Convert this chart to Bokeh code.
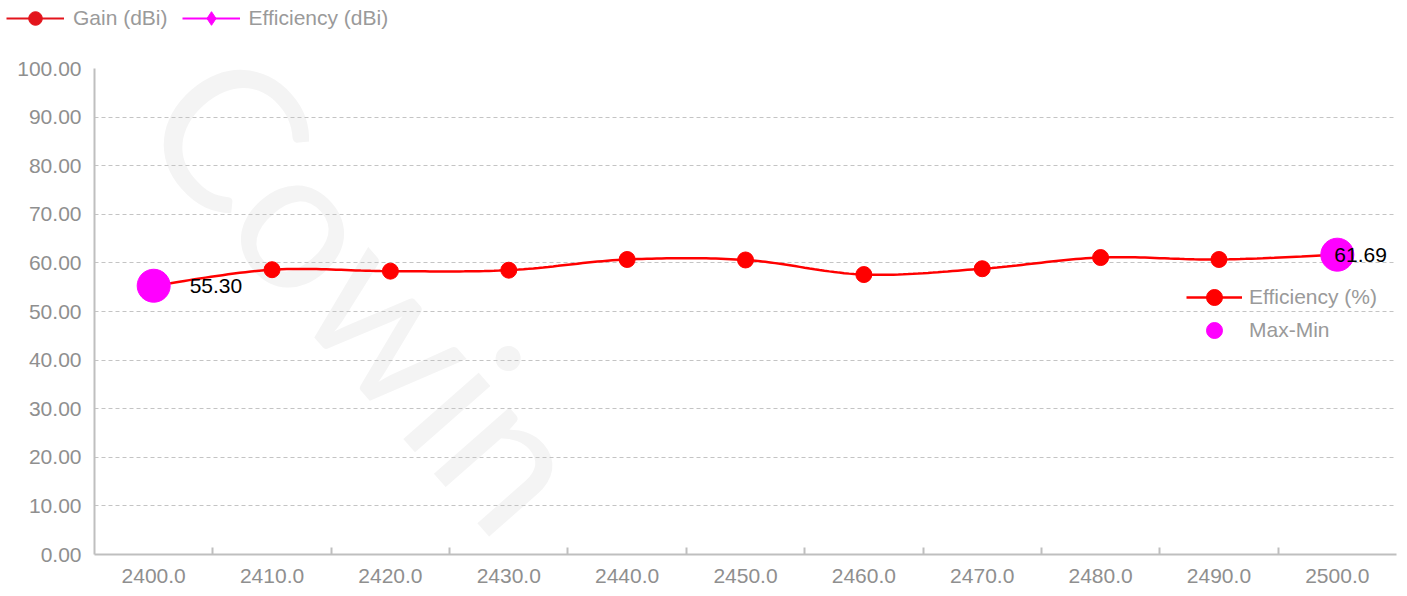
import numpy as np
from bokeh.plotting import figure
from bokeh.layouts import column
from bokeh.models import (Range1d, FixedTicker, NumeralTickFormatter, Legend, LegendItem,
                          ColumnDataSource, Label, LabelSet)
from bokeh.core.properties import value
from bokeh.embed import file_html
from bokeh.resources import INLINE

# ---- data ----
freqs = [2400.0, 2410.0, 2420.0, 2430.0, 2440.0, 2450.0, 2460.0, 2470.0, 2480.0, 2490.0, 2500.0]
efficiency = [55.30, 58.60, 58.30, 58.50, 60.70, 60.60, 57.60, 58.80, 61.10, 60.70, 61.69]
gain_dbi = [float("nan")]          # not plotted in this chart, only listed in the legend
efficiency_dbi = [float("nan")]    # not plotted in this chart, only listed in the legend
y_ticks = [0, 10, 20, 30, 40, 50, 60, 70, 80, 90, 100]
series_names = ["Gain (dBi)", "Efficiency (dBi)", "Efficiency (%)", "Max-Min"]
watermark = "Cowin"

FONT = "Liberation Sans"
GRAY_TXT = "#8f8f8f"
LEG_TXT = "#9a9a9a"


def mk_legend(fig, items, loc, gh, orientation="vertical", spacing=0, standoff=7, gw=56):
    lg = Legend(items=items, location=loc, orientation=orientation, glyph_height=gh,
                glyph_width=gw, label_standoff=standoff, padding=0, margin=0, spacing=spacing,
                border_line_color=None, background_fill_alpha=0,
                label_text_font=FONT, label_text_font_size="21px", label_text_color=LEG_TXT,
                label_height=gh)
    fig.add_layout(lg)


# ---- top strip holding the series legend ----
top = figure(width=1399, height=36, output_backend="svg", toolbar_location=None,
             x_range=Range1d(0, 1), y_range=Range1d(0, 1), x_axis_type=None, y_axis_type=None,
             min_border=0, frame_align=False)
top.outline_line_color = None
gsrc = ColumnDataSource(dict(x=gain_dbi, y=gain_dbi))
esrc = ColumnDataSource(dict(x=efficiency_dbi, y=efficiency_dbi))
g_line = top.line("x", "y", source=gsrc, line_color="#e3141c", line_width=2)
g_pts = top.scatter("x", "y", source=gsrc, marker="circle", fill_color="#e3141c", line_color="#e3141c")
e_line = top.line("x", "y", source=esrc, line_color="#ff00ff", line_width=2)
e_pts = top.scatter("x", "y", source=esrc, marker="diamond", fill_color="#ff00ff", line_color="#ff00ff")
mk_legend(top, [LegendItem(label=series_names[0], renderers=[g_line, g_pts]),
                LegendItem(label=series_names[1], renderers=[e_line, e_pts])],
          (6, 1), 34, orientation="horizontal", spacing=14, standoff=9, gw=58)

# ---- main chart ----
p = figure(width=1399, height=554, output_backend="svg", toolbar_location=None,
           x_range=Range1d(2395, 2505), y_range=Range1d(0, 100),
           min_border_left=94, min_border_right=3, min_border_top=32, min_border_bottom=36,
           frame_align=False)
p.outline_line_color = None
p.background_fill_color = "white"

# watermark
p.add_layout(Label(x=2403.0, y=97.8, text=watermark, angle=-0.85, text_font="Lato",
                   text_font_size="198px", text_color="#f4f4f4", text_baseline="middle",
                   text_align="left", level="image"))

# axes
minor = [(freqs[i] + freqs[i + 1]) / 2 for i in range(len(freqs) - 1)]
p.xaxis.ticker = FixedTicker(ticks=freqs, minor_ticks=minor)
p.xaxis.formatter = NumeralTickFormatter(format="0.0")
p.xaxis.major_tick_line_color = None
p.xaxis.major_tick_in = 0
p.xaxis.major_tick_out = 0
p.xaxis.minor_tick_in = 7
p.xaxis.minor_tick_out = 0
p.xaxis.minor_tick_line_color = "#bfbfbf"
p.xaxis.minor_tick_line_width = 2
p.xaxis.axis_line_color = "#bfbfbf"
p.xaxis.axis_line_width = 2
p.xaxis.major_label_standoff = 14

p.yaxis.ticker = FixedTicker(ticks=y_ticks)
p.yaxis.formatter = NumeralTickFormatter(format="0.00")
p.yaxis.major_tick_line_color = None
p.yaxis.major_tick_in = 0
p.yaxis.major_tick_out = 0
p.yaxis.minor_tick_line_color = None
p.yaxis.axis_line_color = "#bfbfbf"
p.yaxis.axis_line_width = 2
p.yaxis.major_label_standoff = 13

for ax in (p.xaxis, p.yaxis):
    ax.major_label_text_font = FONT
    ax.major_label_text_font_size = "21px"
    ax.major_label_text_color = GRAY_TXT

p.xgrid.grid_line_color = None
p.ygrid.grid_line_color = "#c4c4c4"
p.ygrid.grid_line_dash = "4 3"
p.ygrid.grid_line_width = 1.2

# smooth (Catmull-Rom) curve through the efficiency points
xs = np.array(freqs)
ys = np.array(efficiency)
px = np.concatenate([[xs[0]], xs, [xs[-1]]])
py = np.concatenate([[ys[0]], ys, [ys[-1]]])
t = np.linspace(0, 1, 25)
cx, cy = [], []
for i in range(1, len(px) - 2):
    for arr, out in ((px, cx), (py, cy)):
        p0, p1, p2, p3 = arr[i - 1], arr[i], arr[i + 1], arr[i + 2]
        seg = 0.5 * ((2 * p1) + (-p0 + p2) * t + (2 * p0 - 5 * p1 + 4 * p2 - p3) * t ** 2
                     + (-p0 + 3 * p1 - 3 * p2 + p3) * t ** 3)
        out.extend(seg[:-1] if i < len(px) - 3 else seg)

src = ColumnDataSource(dict(x=freqs, y=efficiency))
eff_line = p.line(cx, cy, line_color="#ff0000", line_width=2.5)
eff_pts = p.scatter("x", "y", source=src, size=16, fill_color="#ff0000", line_color="#ff0000")

# max / min markers
imin = int(np.argmin(ys)); imax = int(np.argmax(ys))
mm = ColumnDataSource(dict(x=[freqs[imin], freqs[imax]], y=[efficiency[imin], efficiency[imax]],
                           t=["%.2f" % efficiency[imin], "%.2f" % efficiency[imax]],
                           xo=[36, -3]))
mm_pts = p.scatter("x", "y", source=mm, size=33, fill_color="#ff00ff", line_color="#ff00ff")
p.add_layout(LabelSet(x="x", y="y", text="t", source=mm, x_offset="xo", text_align="left",
                      text_baseline="middle", text_font=value(FONT), text_font_size="21px",
                      text_color="black"))

mk_legend(p, [LegendItem(label=series_names[2], renderers=[eff_line, eff_pts])], (1092, 237), 40)
mk_legend(p, [LegendItem(label=series_names[3], renderers=[mm_pts])], (1092, 204), 40)

layout = column(top, p, spacing=0)
open("out.html", "w").write(file_html(layout, INLINE))
